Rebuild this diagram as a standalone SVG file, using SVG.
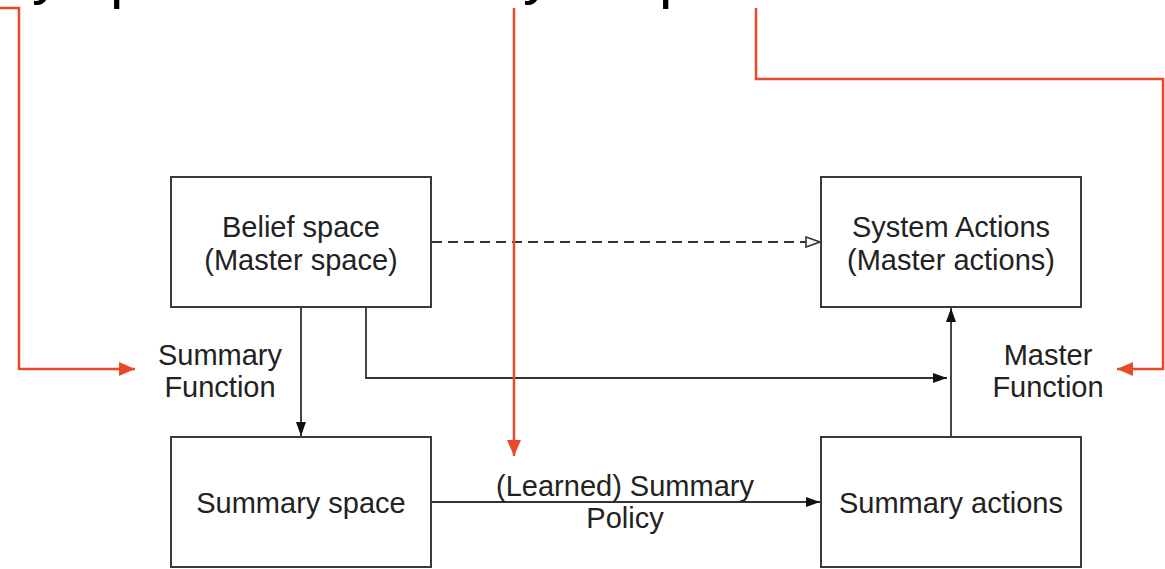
<svg xmlns="http://www.w3.org/2000/svg" width="1165" height="569" viewBox="0 0 1165 569">
<defs>
<style>
.box{fill:#fff;stroke:#3a3a3a;stroke-width:2}
.t{font-family:"Liberation Sans",Arial,Helvetica,sans-serif;font-size:29px;fill:#222;text-anchor:middle}
.big{font-family:"Liberation Sans",Arial,Helvetica,sans-serif;font-size:60px;fill:#000}
.ln{fill:none;stroke:#333;stroke-width:1.8}
.red{fill:none;stroke:#E84A27;stroke-width:2.5}
</style>
<marker id="ah" viewBox="0 0 14 10" refX="14" refY="5" markerWidth="14" markerHeight="10" markerUnits="userSpaceOnUse" orient="auto">
<path d="M0,0 L14,5 L0,10 Z" fill="#111"/>
</marker>
<marker id="oh" viewBox="0 0 16 12" refX="15" refY="6" markerWidth="16" markerHeight="12" markerUnits="userSpaceOnUse" orient="auto">
<path d="M1,1 L15,6 L1,11 Z" fill="#fff" stroke="#333" stroke-width="1.6"/>
</marker>
<marker id="rh" viewBox="0 0 16 14" refX="16" refY="7" markerWidth="16" markerHeight="14" markerUnits="userSpaceOnUse" orient="auto">
<path d="M0,0 L16,7 L0,14 Z" fill="#E84A27"/>
</marker>
</defs>
<rect width="1165" height="569" fill="#fff"/>
<g id="top-fragments">
<text class="big" x="32" y="-7">y</text>
<text class="big" x="110" y="-3">p</text>
<text class="big" x="523" y="-7">y</text>
<text class="big" x="659" y="-3">p</text>
</g>
<g id="connectors">
<path class="ln" d="M432,242 H820" stroke-dasharray="10,6" marker-end="url(#oh)"/>
<path class="ln" d="M301,307 V436" marker-end="url(#ah)"/>
<path class="ln" d="M366,307 V378 H947" marker-end="url(#ah)"/>
<path class="ln" d="M951,437 V308" marker-end="url(#ah)"/>
<path class="ln" d="M431,502 H820" marker-end="url(#ah)"/>
<path class="red" d="M0,8 H19 V369 H135" marker-end="url(#rh)"/>
<path class="red" d="M514,8 V456" marker-end="url(#rh)"/>
<path class="red" d="M756,8 V79 H1163 V369 H1117" marker-end="url(#rh)"/>
</g>
<g id="belief">
<rect class="box" x="171" y="177" width="260" height="130"/>
<text class="t" x="301" y="237">Belief space</text>
<text class="t" x="301" y="270">(Master space)</text>
</g>
<g id="system-actions">
<rect class="box" x="821" y="177" width="260" height="130"/>
<text class="t" x="951" y="237">System Actions</text>
<text class="t" x="951" y="270">(Master actions)</text>
</g>
<g id="summary-space">
<rect class="box" x="171" y="437" width="260" height="130"/>
<text class="t" x="301" y="513">Summary space</text>
</g>
<g id="summary-actions">
<rect class="box" x="821" y="437" width="260" height="130"/>
<text class="t" x="951" y="513">Summary actions</text>
</g>
<g id="labels">
<text class="t" x="220" y="365">Summary</text>
<text class="t" x="220" y="397">Function</text>
<text class="t" x="1048" y="365">Master</text>
<text class="t" x="1048" y="397">Function</text>
<text class="t" x="625" y="496">(Learned) Summary</text>
<text class="t" x="625" y="528">Policy</text>
</g>
</svg>
